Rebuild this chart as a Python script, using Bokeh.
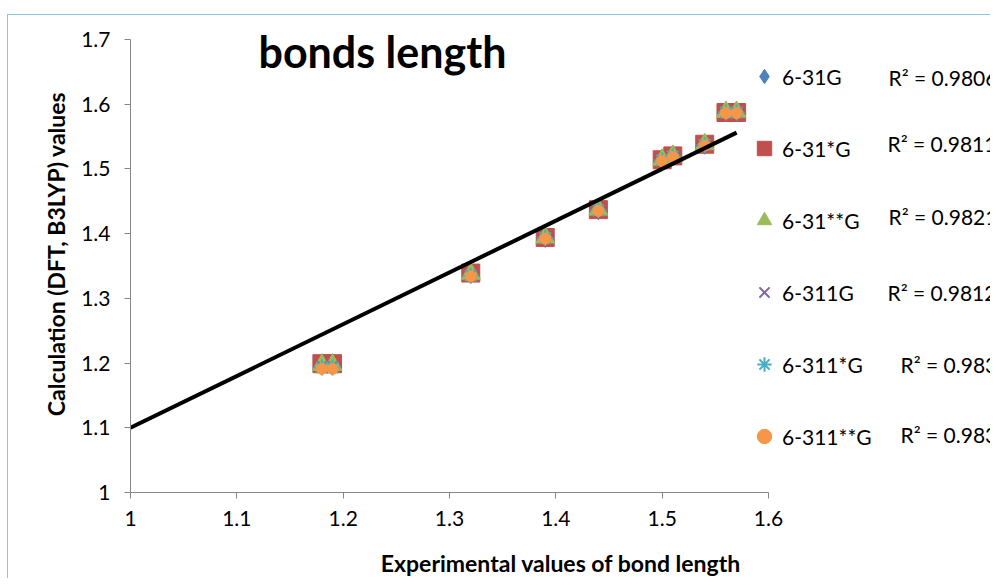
from bokeh.plotting import figure
from bokeh.models import Range1d, FixedTicker, Legend, LegendItem, Label
from bokeh.embed import file_html
from bokeh.resources import INLINE

# ---------------- data ----------------
experimental = [1.18, 1.19, 1.32, 1.39, 1.44, 1.50, 1.51, 1.54, 1.56, 1.57]

calc_631G     = [1.199, 1.199, 1.339, 1.394, 1.437, 1.515, 1.521, 1.538, 1.588, 1.588]
calc_631sG    = [1.199, 1.199, 1.339, 1.394, 1.437, 1.514, 1.520, 1.538, 1.587, 1.587]
calc_631ssG   = [1.197, 1.197, 1.338, 1.394, 1.437, 1.514, 1.520, 1.538, 1.588, 1.588]
calc_6311G    = [1.195, 1.195, 1.336, 1.393, 1.436, 1.513, 1.519, 1.537, 1.587, 1.587]
calc_6311sG   = [1.193, 1.193, 1.335, 1.393, 1.436, 1.513, 1.519, 1.537, 1.587, 1.587]
calc_6311ssG  = [1.191, 1.191, 1.334, 1.392, 1.435, 1.512, 1.518, 1.536, 1.586, 1.586]

series_names = ["6-31G", "6-31*G", "6-31**G", "6-311G", "6-311*G", "6-311**G"]
series_values = [calc_631G, calc_631sG, calc_631ssG, calc_6311G, calc_6311sG, calc_6311ssG]
r2_labels = ["R\u00b2 = 0.9806", "R\u00b2 = 0.9811", "R\u00b2 = 0.9821",
             "R\u00b2 = 0.9812", "R\u00b2 = 0.983", "R\u00b2 = 0.983"]

trend_slope = 0.8
trend_intercept = 0.3
trend_x = [1.0, 1.57]

x_ticks = [1.0, 1.1, 1.2, 1.3, 1.4, 1.5, 1.6]
x_tick_labels = ["1", "1.1", "1.2", "1.3", "1.4", "1.5", "1.6"]
y_ticks = [1.0, 1.1, 1.2, 1.3, 1.4, 1.5, 1.6, 1.7]
y_tick_labels = ["1", "1.1", "1.2", "1.3", "1.4", "1.5", "1.6", "1.7"]

# ---------------- styles ----------------
FONT = "Lato"
markers = ["diamond", "square", "triangle", "x", "asterisk", "circle"]
colors = ["#4F81BD", "#C0504D", "#9BBB59", "#8064A2", "#4BACC6", "#F79646"]
sizes = [20, 18, 19, 14, 16, 11]

# frame spans the whole canvas right/top so texts outside the axes are not clipped;
# axis bounds keep the axes at 1-1.6 and 1-1.7
p = figure(width=983, height=564, output_backend="svg", toolbar_location=None,
           x_range=Range1d(1.0, 1.8097), y_range=Range1d(1.0, 1.7369),
           min_border_left=122, min_border_right=0, min_border_top=0,
           min_border_bottom=85)
p.styles = {"border-left": "1px solid #86c5e3", "border-top": "1px solid #86c5e3",
            "margin-top": "14px", "margin-left": "7px"}
p.outline_line_color = None
p.xgrid.visible = False
p.ygrid.visible = False
p.background_fill_color = "white"
p.border_fill_color = "white"

for ax, ticks, labels in ((p.xaxis[0], x_ticks, x_tick_labels), (p.yaxis[0], y_ticks, y_tick_labels)):
    ax.ticker = FixedTicker(ticks=ticks)
    ax.bounds = (ticks[0], ticks[-1])
    ax.major_label_overrides = {t: l for t, l in zip(ticks, labels)}
    ax.minor_tick_line_color = None
    ax.axis_line_color = "#868686"
    ax.major_tick_line_color = "#868686"
    ax.major_tick_in = 0
    ax.major_tick_out = 6
    ax.major_label_text_font = FONT
    ax.major_label_text_font_size = "21px"
    ax.major_label_text_color = "black"
    ax.axis_label_text_font = FONT
    ax.axis_label_text_font_style = "bold"
    ax.axis_label_text_font_size = "23px"
    ax.axis_label_text_color = "black"

p.xaxis.axis_label = "Experimental values of bond length"
p.yaxis.axis_label = "Calculation (DFT, B3LYP) values"
p.xaxis.major_label_standoff = 12
p.yaxis.major_label_standoff = 14
p.xaxis.axis_label_standoff = 20
p.yaxis.axis_label_standoff = 8

items = []
for name, vals, m, c, s in zip(series_names, series_values, markers, colors, sizes):
    if m in ("x", "asterisk"):
        r = p.scatter(experimental, vals, marker=m, size=s, line_color=c, line_width=2, fill_color=None)
    else:
        r = p.scatter(experimental, vals, marker=m, size=s, fill_color=c, line_color=c)
    items.append(LegendItem(label=name, renderers=[r]))

trend_y = [trend_slope * x + trend_intercept for x in trend_x]
p.line(trend_x, trend_y, line_color="black", line_width=4)

legend = Legend(items=items, location=(616, 36), orientation="vertical",
                label_text_font=FONT, label_text_font_size="21px", label_text_color="black",
                glyph_width=36, glyph_height=40, label_height=40, label_standoff=0,
                spacing=32, padding=0, margin=0,
                border_line_color=None, background_fill_alpha=0)
p.add_layout(legend, "center")

r2_x = [758, 757, 758, 757, 770, 770]
r2_y = [415, 349, 276, 200, 128, 58]
for txt, lx, ly in zip(r2_labels, r2_x, r2_y):
    p.add_layout(Label(x=lx, y=ly, x_units="screen", y_units="screen", text=txt,
                       text_font=FONT, text_font_size="21px", text_color="black",
                       text_baseline="middle"))

p.add_layout(Label(x=128, y=441, x_units="screen", y_units="screen", text="bonds length",
                   text_font=FONT, text_font_size="43px", text_font_style="bold",
                   text_color="black", text_baseline="alphabetic"))

open("out.html", "w").write(file_html(p, INLINE))
